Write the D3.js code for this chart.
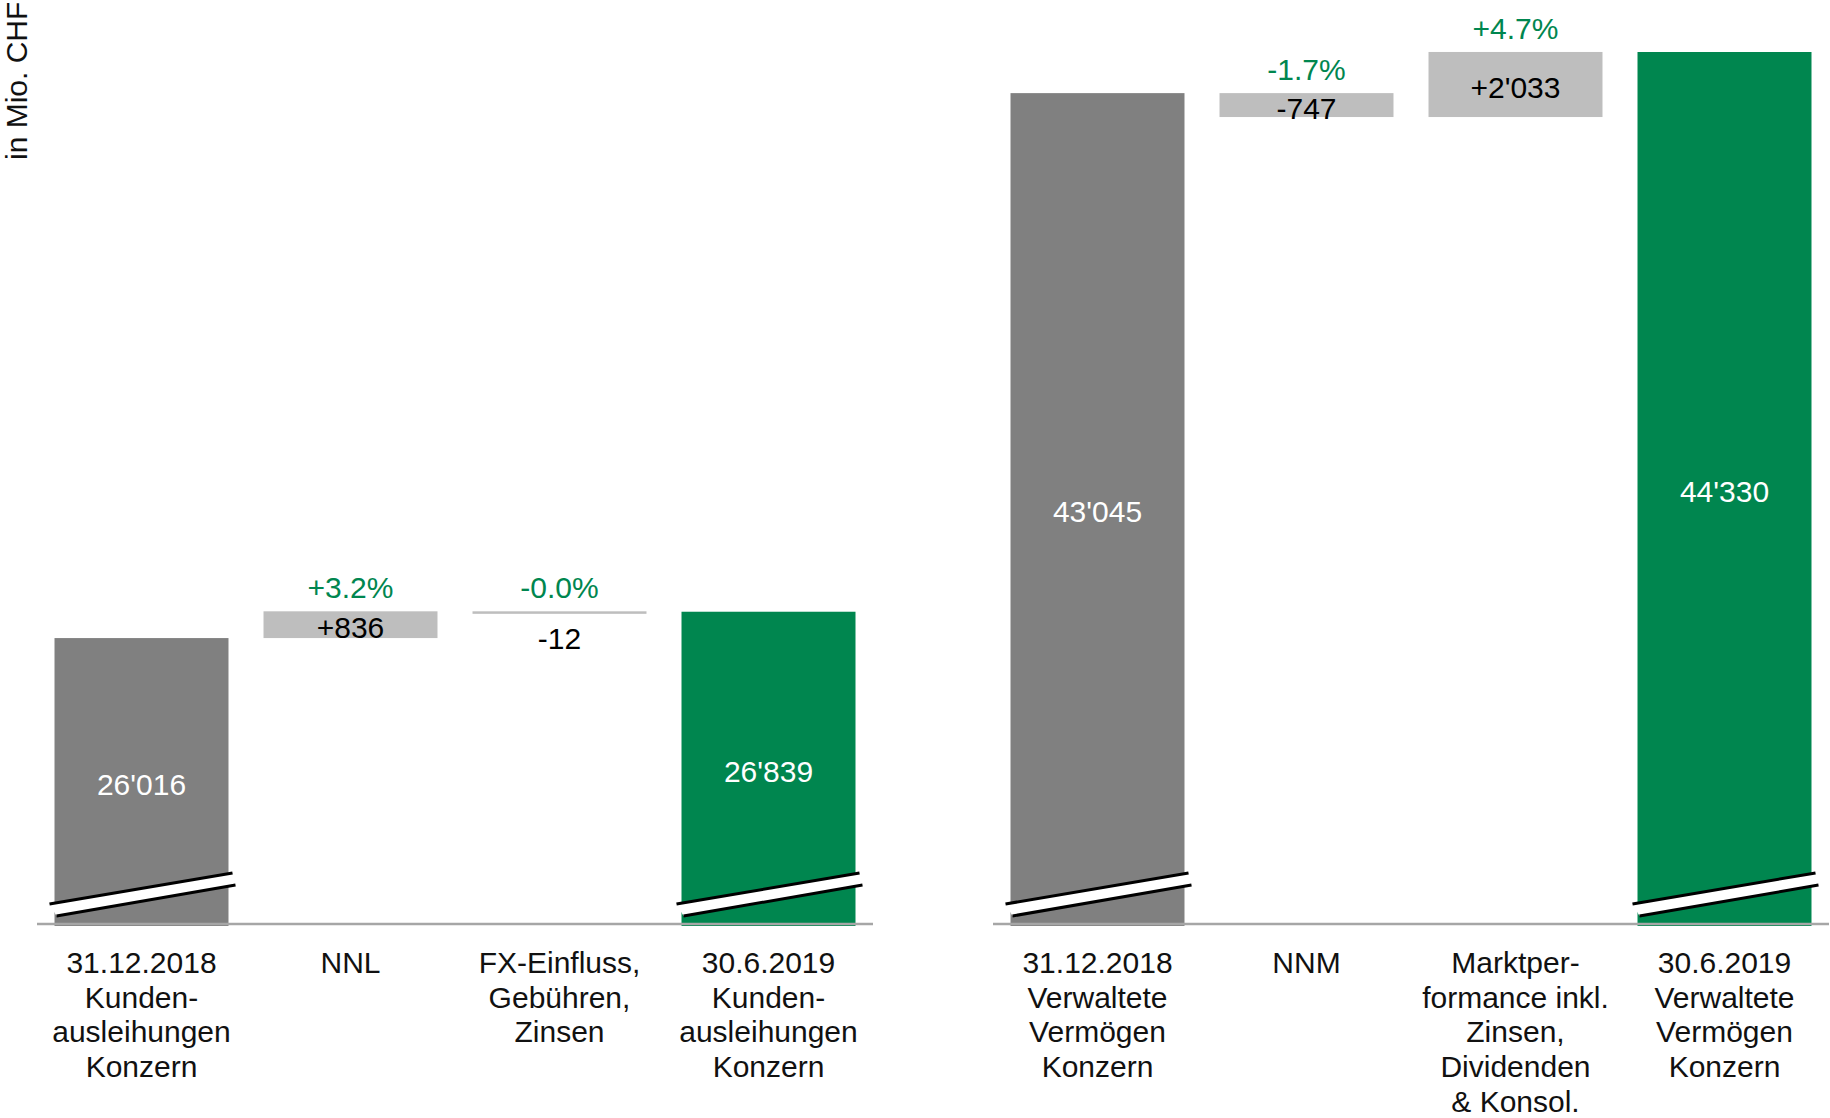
<!DOCTYPE html>
<html>
<head>
<meta charset="utf-8">
<script src="https://cdn.jsdelivr.net/npm/d3@7"></script>
<style>
  html, body { margin: 0; padding: 0; background: #fff; }
  svg { display: block; font-family: "Liberation Sans", Arial, sans-serif; }
</style>
</head>
<body>
<svg id="chart" width="1830" height="1118"></svg>
<script>
// ---- Data ----
const leftCategories = [
  ["31.12.2018", "Kunden-", "ausleihungen", "Konzern"],
  ["NNL"],
  ["FX-Einfluss,", "Gebühren,", "Zinsen"],
  ["30.6.2019", "Kunden-", "ausleihungen", "Konzern"]
];
const leftTypes = ["total", "delta", "delta", "total"];
const leftValues = [26016, 836, -12, 26839];
const leftPercents = [null, "+3.2%", "-0.0%", null];
const leftTotalColors = ["#808080", null, null, "#00864F"];

const rightCategories = [
  ["31.12.2018", "Verwaltete", "Vermögen", "Konzern"],
  ["NNM"],
  ["Marktper-", "formance inkl.", "Zinsen,", "Dividenden", "& Konsol."],
  ["30.6.2019", "Verwaltete", "Vermögen", "Konzern"]
];
const rightTypes = ["total", "delta", "delta", "total"];
const rightValues = [43045, -747, 2033, 44330];
const rightPercents = [null, "-1.7%", "+4.7%", null];
const rightTotalColors = ["#808080", null, null, "#00864F"];

const yAxisTitle = "in Mio. CHF";

// ---- Setup ----
const svg = d3.select("#chart");
const baseY = 924;
const y = d3.scaleLinear().domain([17081, 44330]).range([baseY, 52]);
const locale = d3.formatLocale({ decimal: ".", thousands: "'", grouping: [3], currency: ["", ""] });
const fmt = locale.format(",d");
const fmtSigned = v => (v >= 0 ? "+" : "-") + fmt(Math.abs(v));

const deltaColor = "#BEBEBE";
const green = "#00864F";
const fontSize = 30;

function drawGroup(cats, types, values, percents, totalColors, range) {
  const ids = cats.map((c, i) => i);
  const x = d3.scaleBand().domain(ids).range(range).paddingInner(0.1675).paddingOuter(0.08375);
  const bw = x.bandwidth();
  const g = svg.append("g");

  let running = 0;
  const rows = values.map((v, i) => {
    if (types[i] === "total") {
      running = v;
      return { i, type: "total", top: v, bottom: null, v };
    } else {
      const from = running, to = running + v;
      running = to;
      return { i, type: "delta", top: Math.max(from, to), bottom: Math.min(from, to), v };
    }
  });

  rows.forEach(r => {
    const x0 = x(r.i), x1 = x0 + bw, cx = x0 + bw / 2;
    if (r.type === "total") {
      const yt = y(r.top);
      g.append("rect").attr("x", x0).attr("y", yt).attr("width", bw).attr("height", baseY + 2 - yt)
        .attr("fill", totalColors[r.i]);
      g.append("polygon")
        .attr("points", [[x0 - 5, baseY - 20], [x1 + 4, baseY - 51], [x1 + 7, baseY - 39], [x0 + 2, baseY - 8]].map(p => p.join(",")).join(" "))
        .attr("fill", "#fff");
      g.append("line").attr("x1", x0 - 5).attr("y1", baseY - 20).attr("x2", x1 + 4).attr("y2", baseY - 51)
        .attr("stroke", "#000").attr("stroke-width", 3);
      g.append("line").attr("x1", x0 + 2).attr("y1", baseY - 8).attr("x2", x1 + 7).attr("y2", baseY - 39)
        .attr("stroke", "#000").attr("stroke-width", 3);
      g.append("text").attr("x", cx).attr("y", (yt + baseY) / 2 + 3).attr("dy", "0.36em")
        .attr("text-anchor", "middle").attr("fill", "#fff").attr("font-size", fontSize)
        .text(fmt(r.v));
    } else {
      const yt = y(r.top), yb = y(r.bottom);
      const h = Math.max(yb - yt, 2.5);
      g.append("rect").attr("x", x0).attr("y", yt).attr("width", bw).attr("height", h)
        .attr("fill", deltaColor);
      const ly = (yb - yt) < 15 ? yt + 27 : (yt + yb) / 2 + 3;
      g.append("text").attr("x", cx).attr("y", ly).attr("dy", "0.36em")
        .attr("text-anchor", "middle").attr("fill", "#000").attr("font-size", fontSize)
        .text(fmtSigned(r.v));
      if (percents[r.i]) {
        g.append("text").attr("x", cx).attr("y", yt - 13)
          .attr("text-anchor", "middle").attr("fill", green).attr("font-size", fontSize)
          .text(percents[r.i]);
      }
    }
    const t = g.append("text").attr("text-anchor", "middle").attr("fill", "#111").attr("font-size", fontSize);
    cats[r.i].forEach((line, k) => {
      t.append("tspan").attr("x", cx).attr("y", 973 + k * 34.7).text(line);
    });
  });

  g.append("line").attr("x1", range[0]).attr("x2", range[1]).attr("y1", baseY).attr("y2", baseY)
    .attr("stroke", "#A6A6A6").attr("stroke-width", 2.5);
}

drawGroup(leftCategories, leftTypes, leftValues, leftPercents, leftTotalColors, [37, 873]);
drawGroup(rightCategories, rightTypes, rightValues, rightPercents, rightTotalColors, [993, 1829]);

svg.append("text")
  .attr("transform", "translate(27,160) rotate(-90)")
  .attr("text-anchor", "start").attr("fill", "#111").attr("font-size", fontSize)
  .text(yAxisTitle);
</script>
</body>
</html>
